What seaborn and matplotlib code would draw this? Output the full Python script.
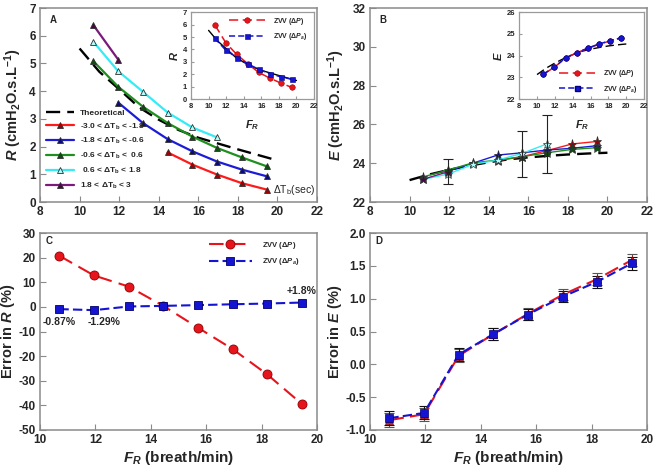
import matplotlib
matplotlib.use("Agg")
import matplotlib.pyplot as plt
import seaborn as sns

# breathing frequencies (breath/min)
fr = [10.7, 11.95, 13.2, 14.45, 15.7, 16.95, 18.2, 19.45]

# theoretical curves
theo_fr = [10, 11, 12, 13, 14, 15, 16, 17, 18, 19, 20]
theo_R = [5.54, 4.70, 4.07, 3.42, 2.97, 2.60, 2.32, 2.11, 1.90, 1.70, 1.50]
theo_E = [23.13, 23.42, 23.66, 23.87, 24.05, 24.20, 24.30, 24.38, 24.45, 24.50, 24.54]

# panel A / B groups (delta Tb)
group_labels = ["-3.0 < ΔT$_b$ < -1.8", "-1.8 < ΔT$_b$ < -0.6", "-0.6 < ΔT$_b$ <  0.6",
                " 0.6 < ΔT$_b$ < 1.8", "1.8 < ΔT$_b$ < 3"]
fr_red = [14.45, 15.7, 16.95, 18.2, 19.45]
fr_blue = [11.95, 13.2, 14.45, 15.7, 16.95, 18.2, 19.45]
fr_green = [10.7, 11.95, 13.2, 14.45, 15.7, 16.95, 18.2, 19.45]
fr_cyan = [10.7, 11.95, 13.2, 14.45, 15.7, 16.95]
fr_purple = [10.7, 11.95]

R_red = [1.79, 1.35, 0.99, 0.68, 0.45]
R_blue = [3.59, 2.85, 2.27, 1.83, 1.46, 1.17, 0.93]
R_green = [5.08, 4.16, 3.44, 2.85, 2.36, 1.95, 1.61, 1.29]
R_cyan = [5.78, 4.72, 3.98, 3.23, 2.69, 2.33]
R_purple = [6.38, 5.14]

E_red = [24.13, 24.34, 24.65, 24.99, 25.12]
E_blue = [23.60, 24.00, 24.42, 24.54, 24.68, 24.77, 24.90]
E_green = [23.30, 23.65, 24.02, 24.16, 24.34, 24.54, 24.71, 24.80]
E_cyan = [23.17, 23.44, 23.94, 24.16, 24.51, 25.00]
E_purple = [23.18, 23.56]

# error bars in B
ebar_fr = [11.95, 15.7, 16.95]
ebar_lo = [22.93, 23.30, 23.51]
ebar_hi = [24.20, 25.68, 26.48]

# insets
ins_R_dp = [6.0, 4.55, 3.6, 2.85, 2.15, 1.7, 1.3, 0.95]
ins_R_dpa = [4.9, 3.95, 3.35, 2.85, 2.4, 2.05, 1.8, 1.6]
ins_E_dp = [23.14, 23.47, 23.89, 24.13, 24.34, 24.53, 24.68, 24.82]
ins_E_dpa = [23.15, 23.48, 23.90, 24.14, 24.35, 24.54, 24.69, 24.83]

# panel C and D
errR_dp = [20.8, 12.8, 8.3, 0.45, -8.4, -17.1, -27.4, -39.4]
errR_dpa = [-0.87, -1.29, 0.2, 0.45, 0.75, 1.1, 1.4, 1.8]
errE_dp = [-0.85, -0.76, 0.13, 0.46, 0.77, 1.06, 1.30, 1.59]
errE_dpa = [-0.82, -0.74, 0.15, 0.46, 0.76, 1.03, 1.26, 1.54]
sdE = [0.11, 0.10, 0.10, 0.09, 0.09, 0.085, 0.09, 0.095]

sns.set_style("ticks")
plt.rcParams['font.family'] = ['Liberation Sans', 'DejaVu Sans']
plt.rcParams['font.weight'] = 'bold'
plt.rcParams['axes.unicode_minus'] = False
plt.rcParams['mathtext.fontset'] = 'custom'
plt.rcParams['mathtext.default'] = 'regular'
plt.rcParams['mathtext.it'] = 'Liberation Sans:italic:bold'
plt.rcParams['mathtext.rm'] = 'Liberation Sans:bold'

GREY = '#8a8a8a'
lbl_dp = r"ZVV ($\mathit{\Delta P}$)"
lbl_dpa = r"ZVV ($\mathit{\Delta P_a}$)"

fig = plt.figure(figsize=(6.58, 4.72), dpi=100)
axA = fig.add_axes([0.0608, 0.572, 0.421, 0.411])
axB = fig.add_axes([0.5623, 0.572, 0.421, 0.411])
axC = fig.add_axes([0.0608, 0.089, 0.421, 0.417])
axD = fig.add_axes([0.5623, 0.089, 0.421, 0.417])
insA = fig.add_axes([0.2903, 0.790, 0.187, 0.184])
insB = fig.add_axes([0.789, 0.790, 0.190, 0.184])


def line(ax, x, y, **kw):
    sns.lineplot(x=x, y=y, ax=ax, estimator=None, sort=False, **kw)


def style(ax, size=8.5, spine=GREY, lw=1.1, tl=4):
    for s in ax.spines.values():
        s.set_color(spine)
        s.set_linewidth(lw)
        s.set_visible(True)
    ax.tick_params(direction='in', length=tl, color=spine, labelsize=size, pad=3)
    for t in ax.get_xticklabels() + ax.get_yticklabels():
        t.set_fontweight('bold')


groups = [
    (fr_red, R_red, E_red, '#ff1a1a', '#a00000'),
    (fr_blue, R_blue, E_blue, '#1c1cd6', '#0a0a80'),
    (fr_green, R_green, E_green, '#1f8f1f', '#0a4f0a'),
    (fr_cyan, R_cyan, E_cyan, '#33ecf5', '#aaffff'),
    (fr_purple, R_purple, E_purple, '#7a1a7a', '#450845'),
]

# ---- Panel A
line(axA, theo_fr, theo_R, color='black', linestyle=(0, (6, 3)), linewidth=1.7, label='Theoretical')
for (x, r, e, c, fc), lab in zip(groups, group_labels):
    line(axA, x, r, color=c, linewidth=1.6, marker='^', markersize=5,
         markerfacecolor=fc, markeredgecolor='#303030', markeredgewidth=0.6, label=lab)
axA.set_xlim(8, 22)
axA.set_ylim(0, 7)
axA.set_xticks(range(8, 23, 2))
axA.set_yticks(range(0, 8))
axA.set_xlabel('')
axA.set_ylabel(r"$\mathit{R}$ (cmH$_2$O.s.L$^{-1}$)", fontsize=10.5, fontweight='bold', labelpad=4)
axA.legend(loc='lower left', bbox_to_anchor=(-0.005, 0.02), frameon=False, fontsize=6,
           handlelength=3.3, labelspacing=0.55, handletextpad=0.8, numpoints=1)
axA.text(0.995, 0.025, "ΔT$_b$(sec)", transform=axA.transAxes, ha='right', va='bottom',
         fontsize=7.5, fontweight='normal')
axA.text(0.035, 0.965, "A", transform=axA.transAxes, ha='left', va='top', fontsize=7, fontweight='bold')
style(axA)

# ---- Panel B
line(axB, theo_fr, theo_E, color='black', linestyle=(0, (6, 3)), linewidth=1.7)
for (x, r, e, c, fc) in groups:
    line(axB, x, e, color=c, linewidth=1.0, marker='*', markersize=6.5,
         markerfacecolor=fc, markeredgecolor='#303030', markeredgewidth=0.5)
mid = [(lo + hi) / 2 for lo, hi in zip(ebar_lo, ebar_hi)]
half = [(hi - lo) / 2 for lo, hi in zip(ebar_lo, ebar_hi)]
axB.errorbar(ebar_fr, mid, yerr=half, fmt='none', ecolor='#222222', elinewidth=0.8, capsize=3.5, capthick=0.8)
axB.set_xlim(8, 22)
axB.set_ylim(22, 32)
axB.set_xticks(range(8, 23, 2))
axB.set_yticks(range(22, 33, 2))
axB.set_ylabel(r"$\mathit{E}$ (cmH$_2$O.s.L$^{-1}$)", fontsize=10.5, fontweight='bold', labelpad=4)
axB.text(0.035, 0.965, "B", transform=axB.transAxes, ha='left', va='top', fontsize=7, fontweight='bold')
style(axB)

# ---- Inset A
line(insA, theo_fr, theo_R, color='black', linewidth=1.0)
line(insA, fr, ins_R_dp, color='#e8141c', linestyle=(0, (6, 3)), linewidth=1.1, marker='o', markersize=4,
     markerfacecolor='#e8141c', markeredgecolor='#a00000', markeredgewidth=0.4, label=lbl_dp)
line(insA, fr, ins_R_dpa, color='#1414d2', linestyle=(0, (4, 2)), linewidth=1.1, marker='s', markersize=3.6,
     markerfacecolor='#1414d2', markeredgecolor='#000080', markeredgewidth=0.4, label=lbl_dpa)
insA.set_xlim(8, 22)
insA.set_ylim(0, 7)
insA.set_xticks(range(8, 23, 2))
insA.set_yticks(range(0, 8))
insA.set_xlabel(r"$\mathit{F_R}$", fontsize=8, labelpad=6)
insA.set_ylabel(r"$\mathit{R}$", fontsize=8, labelpad=2)
h, l = insA.get_legend_handles_labels()
insA.legend(h[-2:], l[-2:], loc='upper right', bbox_to_anchor=(1.0, 1.03), frameon=False, fontsize=5,
            handlelength=5.2, handletextpad=1.2, labelspacing=0.6, numpoints=1)
style(insA, size=5.5, spine='#9a9a9a', lw=0.9, tl=2)

# ---- Inset B
line(insB, theo_fr, theo_E, color='black', linestyle=(0, (6, 3)), linewidth=1.0)
line(insB, fr, ins_E_dp, color='#e8141c', linestyle=(0, (6, 3)), linewidth=1.1, marker='o', markersize=4,
     markerfacecolor='#e8141c', markeredgecolor='#a00000', markeredgewidth=0.4, label=lbl_dp)
line(insB, fr, ins_E_dpa, color='#1414d2', linestyle=(0, (4, 2)), linewidth=1.1, marker='o', markersize=4,
     markerfacecolor='#1414d2', markeredgecolor='#000080', markeredgewidth=0.4)
insB.plot([], [], color='#1414d2', linestyle=(0, (4, 2)), linewidth=1.1, marker='s', markersize=3.6,
          markerfacecolor='#1414d2', markeredgecolor='#000080', label=lbl_dpa)
insB.set_xlim(8, 22)
insB.set_ylim(22, 26)
insB.set_xticks(range(8, 23, 2))
insB.set_yticks(range(22, 27))
insB.set_xlabel(r"$\mathit{F_R}$", fontsize=8, labelpad=6)
insB.set_ylabel(r"$\mathit{E}$", fontsize=8, labelpad=2)
h, l = insB.get_legend_handles_labels()
insB.legend(h, l, loc='lower right', bbox_to_anchor=(1.0, -0.02), frameon=False, fontsize=5,
            handlelength=5.2, handletextpad=1.2, labelspacing=0.6, numpoints=1)
style(insB, size=5.5, spine='#9a9a9a', lw=0.9, tl=2)

# ---- Panel C
line(axC, fr, errR_dp, color='#e8141c', linestyle=(0, (7, 3.5)), linewidth=1.5, marker='o', markersize=6.5,
     markerfacecolor='#e8141c', markeredgecolor='#8b0000', markeredgewidth=0.6, label=lbl_dp)
line(axC, fr, errR_dpa, color='#1414d2', linestyle=(0, (4.5, 2)), linewidth=1.5, marker='s', markersize=5.5,
     markerfacecolor='#1414d2', markeredgecolor='#00006a', markeredgewidth=0.6, label=lbl_dpa)
axC.set_xlim(10, 20)
axC.set_ylim(-50, 30)
axC.set_xticks(range(10, 21, 2))
axC.set_yticks(range(-50, 31, 10))
axC.set_xlabel(r"$\mathit{F_R}$ (breath/min)", fontsize=11, fontweight='bold', labelpad=2)
axC.set_ylabel(r"Error in $\mathit{R}$ (%)", fontsize=10.5, fontweight='bold', labelpad=1)
axC.legend(loc='upper right', bbox_to_anchor=(0.96, 1.0), frameon=False, fontsize=5.5,
           handlelength=5.6, handletextpad=1.3, labelspacing=0.7, numpoints=1)
axC.text(fr[0], -6, "-0.87%", ha='center', va='center', fontsize=7.5, fontweight='bold')
axC.text(12.3, -6, "-1.29%", ha='center', va='center', fontsize=7.5, fontweight='bold')
axC.text(fr[-1], 6.3, "+1.8%", ha='center', va='center', fontsize=7.5, fontweight='bold')
axC.text(0.02, 0.985, "C", transform=axC.transAxes, ha='left', va='top', fontsize=7, fontweight='bold')
style(axC)

# ---- Panel D
axD.errorbar(fr, errE_dp, yerr=sdE, fmt='none', ecolor='#555555', elinewidth=0.8, capsize=3.5, capthick=0.8)
axD.errorbar(fr, errE_dpa, yerr=sdE, fmt='none', ecolor='#111111', elinewidth=0.8, capsize=3.5, capthick=0.8)
line(axD, fr, errE_dp, color='#e8141c', linestyle=(0, (7, 3)), linewidth=1.5, marker='^', markersize=5.5,
     markerfacecolor='#e8141c', markeredgecolor='#8b0000', markeredgewidth=0.5)
line(axD, fr, errE_dpa, color='#1414d2', linestyle=(0, (4.5, 2)), linewidth=1.5, marker='s', markersize=5.5,
     markerfacecolor='#1414d2', markeredgecolor='#00006a', markeredgewidth=0.5)
axD.set_xlim(10, 20)
axD.set_ylim(-1.0, 2.0)
axD.set_xticks(range(10, 21, 2))
axD.set_yticks([-1.0, -0.5, 0.0, 0.5, 1.0, 1.5, 2.0])
axD.set_yticklabels(["-1.0", "-0.5", "0.0", "0.5", "1.0", "1.5", "2.0"])
axD.set_xlabel(r"$\mathit{F_R}$ (breath/min)", fontsize=11, fontweight='bold', labelpad=2)
axD.set_ylabel(r"Error in $\mathit{E}$ (%)", fontsize=10.5, fontweight='bold', labelpad=1)
axD.text(0.02, 0.985, "D", transform=axD.transAxes, ha='left', va='top', fontsize=7, fontweight='bold')
style(axD)

fig.savefig("out.png", dpi=100)
